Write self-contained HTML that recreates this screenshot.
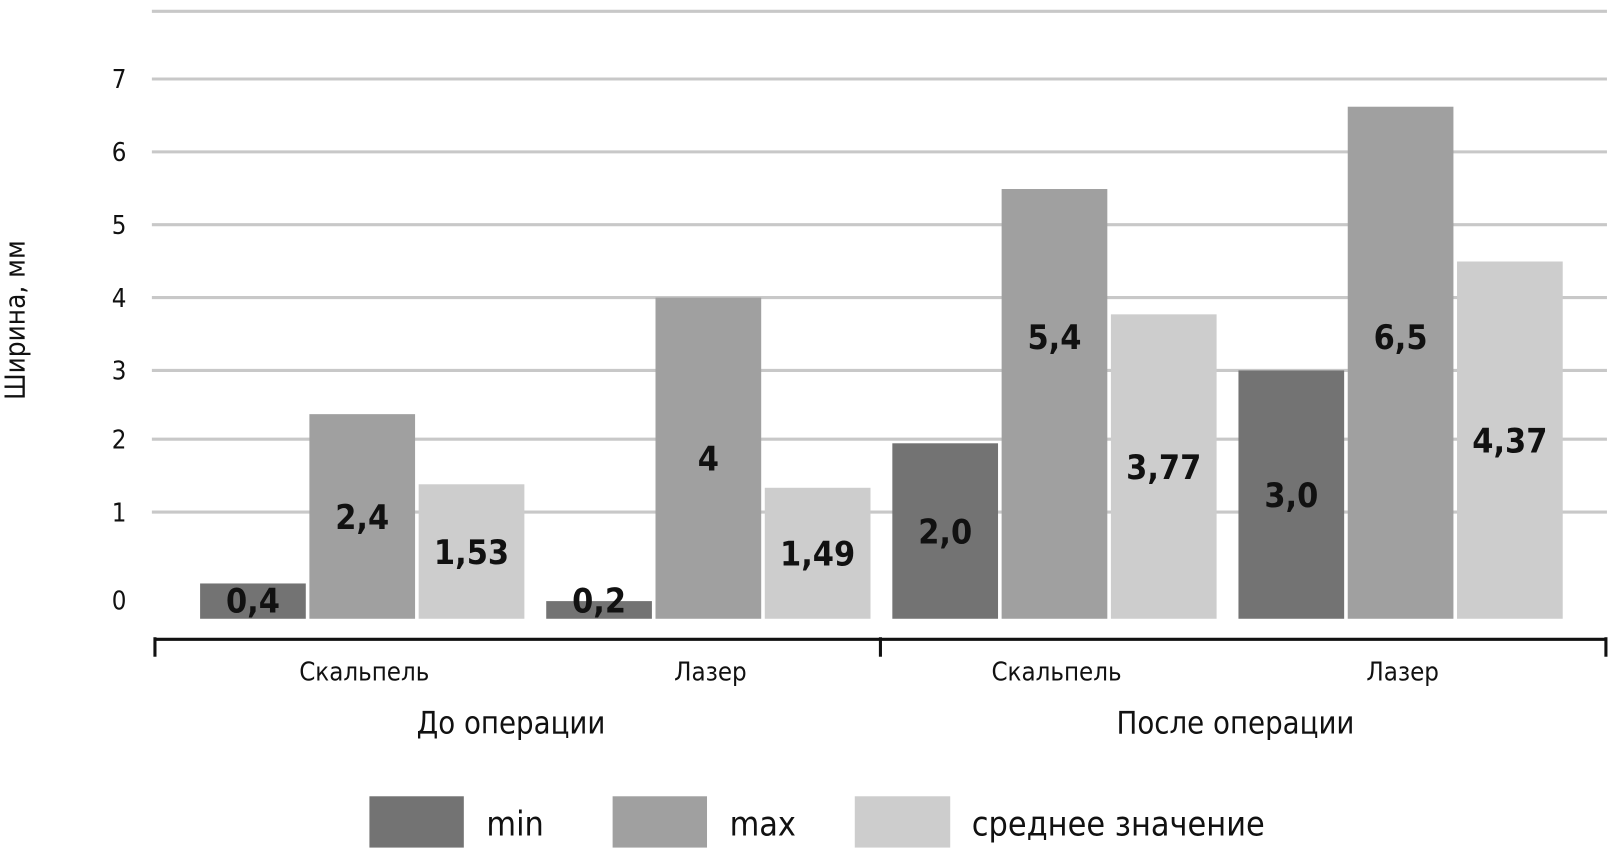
<!DOCTYPE html>
<html><head><meta charset="utf-8">
<style>
body{margin:0;background:#fff;width:1609px;height:848px;overflow:hidden}
svg text{font-family:"DejaVu Sans Condensed","Liberation Sans Narrow","Liberation Sans",sans-serif;font-stretch:condensed}
</style></head>
<body>
<svg id="chart" width="1609" height="848" viewBox="0 0 1568 826.4" preserveAspectRatio="none" xmlns="http://www.w3.org/2000/svg">
<g id="grid"></g><g id="bars"></g><g id="labels"></g>
<text transform="translate(24,312) rotate(-90)" text-anchor="middle" font-size="27" fill="#111">Ширина, мм</text>
<line x1="150" y1="623" x2="1566" y2="623" stroke="#111" stroke-width="3"/>
<line x1="151" y1="621" x2="151" y2="640" stroke="#111" stroke-width="3"/>
<line x1="858" y1="621" x2="858" y2="640" stroke="#111" stroke-width="3"/>
<line x1="1565" y1="621" x2="1565" y2="640" stroke="#111" stroke-width="3"/>
<g>
<rect x="360" y="776" width="92" height="50" fill="#737373"/>
<text x="474" y="814" font-size="33" fill="#111">min</text>
<rect x="597" y="776" width="92" height="50" fill="#a0a0a0"/>
<text x="711" y="814" font-size="33" fill="#111">max</text>
<rect x="833" y="776" width="93" height="50" fill="#cdcdcd"/>
<text x="947" y="814" font-size="33" fill="#111">среднее значение</text>
</g>
</svg>
<script>
const groups=["До операции","После операции"];
const categories=["Скальпель","Лазер","Скальпель","Лазер"];
const minVals=[0.4,0.2,2.0,3.0];
const maxVals=[2.4,4,5.4,6.5];
const meanVals=[1.53,1.49,3.77,4.37];
const minLabels=["0,4","0,2","2,0","3,0"];
const maxLabels=["2,4","4","5,4","6,5"];
const meanLabels=["1,53","1,49","3,77","4,37"];
const tickVals=[0,1,2,3,4,5,6,7];
const NS="http://www.w3.org/2000/svg";
function interp(v,kv,kp){for(let i=0;i<kv.length-1;i++){if(v<=kv[i+1]){const t=(v-kv[i])/(kv[i+1]-kv[i]);return kp[i]+t*(kp[i+1]-kp[i]);}}return kp[kp.length-1];}
const K=[0,1,2,3,4,5,6,7,8];
function gy(v){return interp(v,K,[603,499,428,361,290,219,148,77,11]);}
function y(v){return interp(v,K,[603,517,432,361,290,195,168,40,11]);}
function clusterX(i){return 195+i*337.3;}
const bw=103,step=106.5;
function mk(tag,attrs,parent,txt){const e=document.createElementNS(NS,tag);for(const k in attrs)e.setAttribute(k,attrs[k]);if(txt!==undefined)e.textContent=txt;document.getElementById(parent).appendChild(e);return e;}
[1,2,3,4,5,6,7,8].forEach(v=>{const l=mk('line',{x1:148,x2:1566,y1:gy(v),y2:gy(v),stroke:'#c8c8c8','stroke-width':3},'grid');

});
tickVals.forEach(v=>{const t=mk('text',{x:116,y:(v===0?gy(0)-9:gy(v)+9),'font-size':25,'text-anchor':'middle',fill:'#111'},'labels',String(v));

});
const series=[[minVals,minLabels,'#737373','min'],[maxVals,maxLabels,'#a0a0a0','max'],[meanVals,meanLabels,'#cdcdcd','mean']];
categories.forEach((c,i)=>{
 series.forEach((s,j)=>{
  const v=s[0][i],x=clusterX(i)+j*step,top=y(v);
  const r=mk('rect',{x:x,y:top,width:bw,height:y(0)-top,fill:s[2]},'bars');
  
  
  let ly=Math.min((top+y(0))/2+12,597);
  if(v>5) ly=Math.min(ly,340);
  const t=mk('text',{x:x+bw/2,y:ly,'font-size':33,'font-weight':'bold','text-anchor':'middle',fill:'#111'},'labels',s[1][i]);
  
  
 });
 const ct=mk('text',{x:clusterX(i)+160,y:663,'font-size':25,'text-anchor':'middle',fill:'#111'},'labels',c);
 
 
});
groups.forEach((g,k)=>{const t=mk('text',{x:498+k*706,y:715,'font-size':30,'text-anchor':'middle',fill:'#111'},'labels',g);

});
</script>
</body></html>
